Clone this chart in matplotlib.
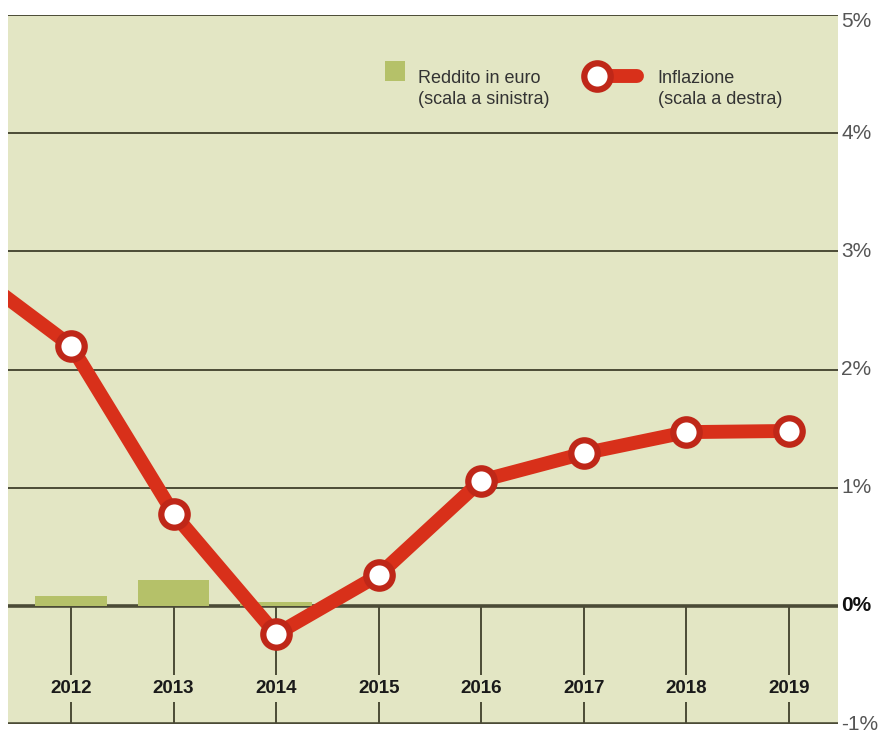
import numpy as np
import matplotlib.pyplot as plt

# --- data ---
years = [2011, 2012, 2013, 2014, 2015, 2016, 2017, 2018, 2019]
inflazione = [2.85, 2.20, 0.78, -0.24, 0.26, 1.06, 1.29, 1.47, 1.48]
bar_years = [2012, 2013, 2014]
reddito = [0.085, 0.22, 0.03]
y_ticks = [5, 4, 3, 2, 1, 0, -1]
y_labels = ['5%', '4%', '3%', '2%', '1%', '0%', '-1%']

BG = '#e3e6c4'
RED = '#d8301a'
DARK_RED = '#bf2718'
BAR = '#b5c169'
GRID = '#4b4b36'

plt.rcParams['font.family'] = ['Liberation Sans', 'DejaVu Sans']

fig = plt.figure(figsize=(8.86, 7.34), dpi=100)
ax = fig.add_axes([8 / 886, 10 / 734, 830 / 886, 709 / 734])
ax.set_facecolor(BG)
ax.set_xlim(2011.385, 2019.48)
ax.set_ylim(-1, 5)

# horizontal grid
for t in y_ticks:
    lw = 2.6 if t in (0, -1) else 1.4
    ax.axhline(t, color=GRID, lw=lw, zorder=1)

# vertical tick lines below zero
ax.vlines(years[1:], -1, 0, color=GRID, lw=1.4, zorder=1)

# bars
ax.bar(bar_years, reddito, width=0.7, color=BAR, zorder=2)

# inflation line
ax.plot(years, inflazione, color=RED, lw=10, solid_capstyle='butt', zorder=3)
ax.plot(years, inflazione, 'o', ms=19, mfc='white', mec=DARK_RED, mew=4.5, zorder=4)

# year labels (break the tick lines)
for y in years[1:]:
    ax.text(y, -0.70, str(y), ha='center', va='center', fontsize=13.5,
            fontweight='bold', color='#1a1a1a', zorder=5,
            bbox=dict(boxstyle='square,pad=0.25', fc=BG, ec='none'))

# right axis labels (top one sits a little lower)
for t, lab in zip(y_ticks, y_labels):
    bold = t == 0
    ypos = (t + 1) / 6 - (0.009 if t == 5 else 0)
    ax.text(1.004, ypos, lab, transform=ax.transAxes, ha='left',
            va='center', fontsize=15,
            fontweight='bold' if bold else 'normal',
            color='#111111' if bold else '#555555', clip_on=False)

# legend
ax.bar([2015.16], [0.17], width=0.195, bottom=4.44, color=BAR, zorder=2)
ax.text(2015.38, 4.37, 'Reddito in euro\n(scala a sinistra)', fontsize=13,
        va='center', ha='left', color='#333333', linespacing=1.3)
ax.plot([2017.13, 2017.52], [4.48, 4.48], color=RED, lw=10,
        solid_capstyle='round', zorder=3)
ax.plot([2017.13], [4.48], 'o', ms=19, mfc='white', mec=DARK_RED, mew=4.5, zorder=4)
ax.text(2017.72, 4.37, 'Inflazione\n(scala a destra)', fontsize=13,
        va='center', ha='left', color='#333333', linespacing=1.3)

ax.set_xticks([])
ax.set_yticks([])
for s in ax.spines.values():
    s.set_visible(False)

fig.savefig('out.png', dpi=100)
